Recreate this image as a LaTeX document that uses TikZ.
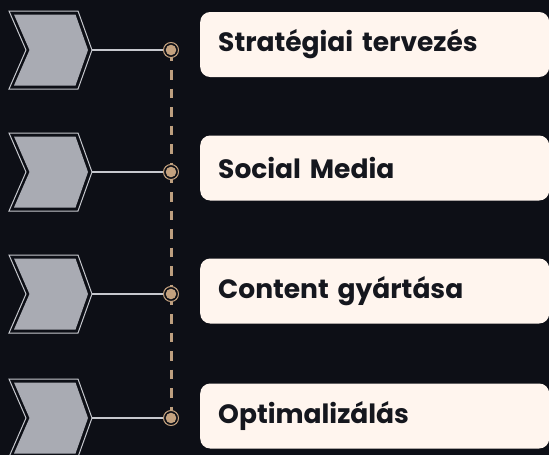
\documentclass[tikz,border=0pt]{standalone}
\usepackage{fontspec}
\setmainfont{Poppins}
\usetikzlibrary{positioning,backgrounds}
\definecolor{fond}{HTML}{0D0F16}
\definecolor{gris}{HTML}{A9ABB3}
\definecolor{grisclair}{HTML}{C6C8CE}
\definecolor{sable}{HTML}{C4A27F}
\definecolor{creme}{HTML}{FFF5EE}
\definecolor{encre}{HTML}{15171E}
\tikzset{
  etiquette/.style={fill=creme, rounded corners=10pt, anchor=west, minimum width=349pt,
    minimum height=65pt, inner xsep=18pt, inner ysep=0pt, text=encre,
    font=\fontsize{26.5}{30}\selectfont\bfseries, text width=313pt, align=left},
  pastille/.style={circle, draw=sable, line width=1pt, fill=fond, minimum size=15pt, inner sep=0pt,
    path picture={\fill[sable] (path picture bounding box.center) circle (5.3pt);}}
}
\begin{document}
\begin{tikzpicture}[x=1pt,y=-1pt]
\useasboundingbox (0,0) rectangle (549,455);
%chevrons et etiquettes
\foreach \n/\y/\dy/\txt in {1/50/-5.5/{Stratégiai tervezés},2/172/-4/{Social Media},3/294/-3/{Content gyártása},4/418/-2/{Optimalizálás}}{
  \draw [grisclair, line width=1pt] (9,\y-39) -- (78,\y-39) -- (92,\y) -- (78,\y+39) -- (9,\y+39) -- (26,\y) -- cycle;
  \fill [gris] (14,\y-35.5) -- (75.5,\y-35.5) -- (88,\y) -- (75.5,\y+35.5) -- (14,\y+35.5) -- (29.5,\y) -- cycle;
  \coordinate (pointe\n) at (92,\y);
  \node [pastille] (rond\n) at (171,\y) {};
  \node [etiquette] (texte\n) at (200,\y+\dy) {\txt};
}
%fond, liaisons et pointilles
\begin{pgfonlayer}{background}
\fill [fond] (0,0) rectangle (549,455);
\foreach \n in {1,2,3,4}{
  \draw [grisclair, line width=1.2pt] (pointe\n) -- (rond\n.center);
}
\foreach \a/\b in {1/2,2/3,3/4}{
  \draw [sable!90!gray, line width=3pt, dash pattern=on 9.5pt off 9pt, dash phase=17pt] (rond\a.center) -- (rond\b.center);
}
\end{pgfonlayer}
\end{tikzpicture}
\end{document}
